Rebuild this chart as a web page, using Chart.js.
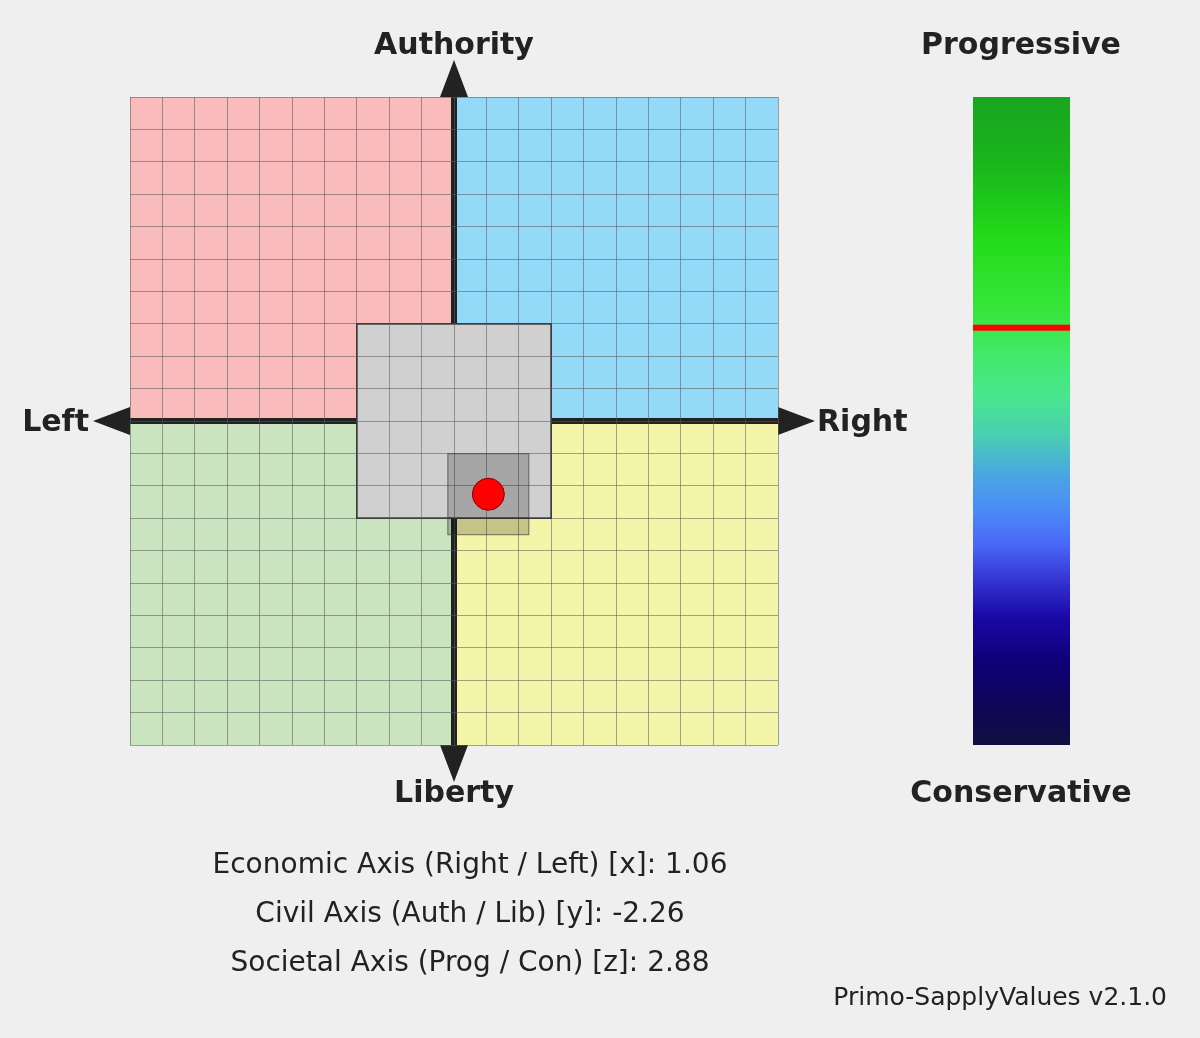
<!DOCTYPE html>
<html>
<head>
<meta charset="utf-8">
<script src="https://cdn.jsdelivr.net/npm/chart.js@4.4.1/dist/chart.umd.min.js"></script>
<style>
    html, body { margin: 0; padding: 0; background: #efefef; }
    #wrap { position: relative; width: 1200px; height: 1038px; }
    #compass { position: absolute; left: 0; top: 0; }
    #societal { position: absolute; left: 973px; top: 97px; }
</style>
</head>
<body>
<div id="wrap">
    <canvas id="compass" width="1200" height="1038"></canvas>
    <canvas id="societal" width="97" height="648"></canvas>
</div>
<script>
// resultados
var economicValue = 1.06;
var civilValue = -2.26;
var societalValue = 2.88;

// cuadrantes (izq-arriba, der-arriba, izq-abajo, der-abajo)
var quadrantX = [[-10, 0], [0, 10], [-10, 0], [0, 10]];
var quadrantY = [[0, 10], [0, 10], [-10, 0], [-10, 0]];
var quadrantColors = ["#f9bbbb", "#93d9f8", "#c9e4bf", "#f5f5a9"];

// caja central y caja del resultado
var centerBox = [-3, 3];
var resultSpan = 1.25;
var axisRange = [-10, 10];

var axisLabels = ["Authority", "Liberty", "Left", "Right"];
var societalLabels = ["Progressive", "Conservative"];
var summaryLines = [
    "Economic Axis (Right / Left) [x]: " + economicValue.toFixed(2),
    "Civil Axis (Auth / Lib) [y]: " + civilValue.toFixed(2),
    "Societal Axis (Prog / Con) [z]: " + societalValue.toFixed(2)
];
var versionText = "Primo-SapplyValues v2.1.0";

var BOLD = "bold 30px 'DejaVu Sans'";
var TEXT = "#222222";

function rectFor(chart, x0, x1, y0, y1) {
    let sx = chart.scales.x, sy = chart.scales.y;
    let a = sx.getPixelForValue(x0), b = sx.getPixelForValue(x1);
    let c = sy.getPixelForValue(y1), d = sy.getPixelForValue(y0);
    return [a, c, b - a, d - c];
}

// fondo: cuadrantes, ejes, caja central
var fondoPlugin = {
    id: "fondo",
    beforeDraw: function (chart) {
        let ctx = chart.ctx;
        let sx = chart.scales.x, sy = chart.scales.y;
        ctx.save();
        for (let i = 0; i < quadrantX.length; i++) {
            let r = rectFor(chart, quadrantX[i][0], quadrantX[i][1], quadrantY[i][0], quadrantY[i][1]);
            ctx.fillStyle = quadrantColors[i];
            ctx.fillRect(r[0], r[1], r[2], r[3]);
        }
        let cx = sx.getPixelForValue(0), cy = sy.getPixelForValue(0);
        let left = sx.getPixelForValue(axisRange[0]), right = sx.getPixelForValue(axisRange[1]);
        let top = sy.getPixelForValue(axisRange[1]), bottom = sy.getPixelForValue(axisRange[0]);
        ctx.fillStyle = TEXT;
        ctx.fillRect(cx - 3, top, 6, bottom - top);
        ctx.fillRect(left, cy - 3, right - left, 6);

        // flechas
        let L = 37, W = 14;
        ctx.beginPath();
        ctx.moveTo(cx - W, top); ctx.lineTo(cx, top - L); ctx.lineTo(cx + W, top); ctx.closePath();
        ctx.moveTo(cx - W, bottom); ctx.lineTo(cx, bottom + L); ctx.lineTo(cx + W, bottom); ctx.closePath();
        ctx.moveTo(left, cy - W); ctx.lineTo(left - L, cy); ctx.lineTo(left, cy + W); ctx.closePath();
        ctx.moveTo(right, cy - W); ctx.lineTo(right + L, cy); ctx.lineTo(right, cy + W); ctx.closePath();
        ctx.fill();

        let r = rectFor(chart, centerBox[0], centerBox[1], centerBox[0], centerBox[1]);
        ctx.fillStyle = "#d0d0d0";
        ctx.fillRect(r[0], r[1], r[2], r[3]);
        ctx.strokeStyle = "#111111";
        ctx.lineWidth = 1.5;
        ctx.strokeRect(r[0], r[1], r[2], r[3]);
        ctx.restore();
    },
    beforeDatasetsDraw: function (chart) {
        let ctx = chart.ctx;
        let r = rectFor(chart, economicValue - resultSpan, economicValue + resultSpan,
            civilValue - resultSpan, civilValue + resultSpan);
        ctx.save();
        ctx.fillStyle = "rgba(0,0,0,0.2)";
        ctx.fillRect(r[0], r[1], r[2], r[3]);
        ctx.strokeStyle = "rgba(60,60,60,0.7)";
        ctx.lineWidth = 1;
        ctx.strokeRect(r[0], r[1], r[2], r[3]);
        ctx.restore();
    },
    afterDraw: function (chart) {
        let ctx = chart.ctx;
        let sx = chart.scales.x, sy = chart.scales.y;
        let cx = sx.getPixelForValue(0), cy = sy.getPixelForValue(0);
        ctx.save();
        ctx.fillStyle = TEXT;
        ctx.font = BOLD;
        ctx.textBaseline = "middle";
        ctx.textAlign = "center";
        ctx.fillText(axisLabels[0], cx, 46);
        ctx.fillText(axisLabels[1], cx, 794);
        ctx.fillText(societalLabels[0], 1021, 46);
        ctx.fillText(societalLabels[1], 1021, 794);
        ctx.textAlign = "right";
        ctx.fillText(axisLabels[2], 89, cy + 2);
        ctx.textAlign = "left";
        ctx.fillText(axisLabels[3], 817, cy + 2);

        ctx.textAlign = "center";
        ctx.font = "28px 'DejaVu Sans'";
        for (let i = 0; i < summaryLines.length; i++) {
            ctx.fillText(summaryLines[i], 470, 866 + i * 49);
        }
        ctx.textAlign = "right";
        ctx.font = "25px 'DejaVu Sans'";
        ctx.fillText(versionText, 1167, 998);
        ctx.restore();
    }
};

var gridScale = function () {
    return {
        type: "linear",
        min: axisRange[0],
        max: axisRange[1],
        ticks: { display: false, stepSize: 1 },
        border: { display: false },
        grid: { color: "rgba(90,90,90,0.55)", lineWidth: 1, drawTicks: false },
        title: { display: false }
    };
};
var xScale = gridScale();
xScale.afterFit = function (s) { s.height = 0; };
var yScale = gridScale();
yScale.afterFit = function (s) { s.width = 0; };

new Chart(document.getElementById("compass"), {
    type: "scatter",
    data: {
        datasets: [{
            label: "Resultado",
            data: [{ x: economicValue, y: civilValue }],
            pointRadius: 16,
            pointHoverRadius: 16,
            backgroundColor: "#ff0000",
            borderColor: "#8a0000",
            borderWidth: 1
        }]
    },
    options: {
        responsive: false,
        animation: false,
        layout: { padding: { left: 130, top: 97, right: 422, bottom: 293 } },
        plugins: { legend: { display: false }, tooltip: { enabled: false } },
        scales: { x: xScale, y: yScale }
    },
    plugins: [fondoPlugin]
});

// barra del eje social
var gradientStops = [
    [0.00, "#1aa51f"],
    [0.10, "#19b51b"],
    [0.22, "#22dc1a"],
    [0.33, "#36e63c"],
    [0.40, "#41e96c"],
    [0.46, "#49e68e"],
    [0.52, "#4ad0b0"],
    [0.58, "#4aa8e0"],
    [0.64, "#4a8af8"],
    [0.69, "#4a68f8"],
    [0.74, "#3838d8"],
    [0.80, "#1a0aa8"],
    [0.87, "#0e0078"],
    [0.94, "#0f0658"],
    [1.00, "#101040"]
];

var markerPlugin = {
    id: "marker",
    afterDatasetsDraw: function (chart) {
        let ctx = chart.ctx;
        let y = chart.scales.y.getPixelForValue(societalValue);
        ctx.save();
        ctx.fillStyle = "#ff0000";
        ctx.fillRect(chart.chartArea.left, y - 3, chart.chartArea.right - chart.chartArea.left, 6);
        ctx.restore();
    }
};

new Chart(document.getElementById("societal"), {
    type: "bar",
    data: {
        labels: ["z"],
        datasets: [{
            data: [[axisRange[0], axisRange[1]]],
            barPercentage: 1,
            categoryPercentage: 1,
            borderWidth: 0,
            backgroundColor: function (context) {
                let area = context.chart.chartArea;
                if (!area) return "#2a2";
                let g = context.chart.ctx.createLinearGradient(0, area.top, 0, area.bottom);
                gradientStops.forEach(function (s) { g.addColorStop(s[0], s[1]); });
                return g;
            }
        }]
    },
    options: {
        responsive: false,
        animation: false,
        layout: { padding: 0 },
        plugins: { legend: { display: false }, tooltip: { enabled: false } },
        scales: {
            x: { display: false },
            y: { display: false, min: axisRange[0], max: axisRange[1] }
        }
    },
    plugins: [markerPlugin]
});
</script>
</body>
</html>
